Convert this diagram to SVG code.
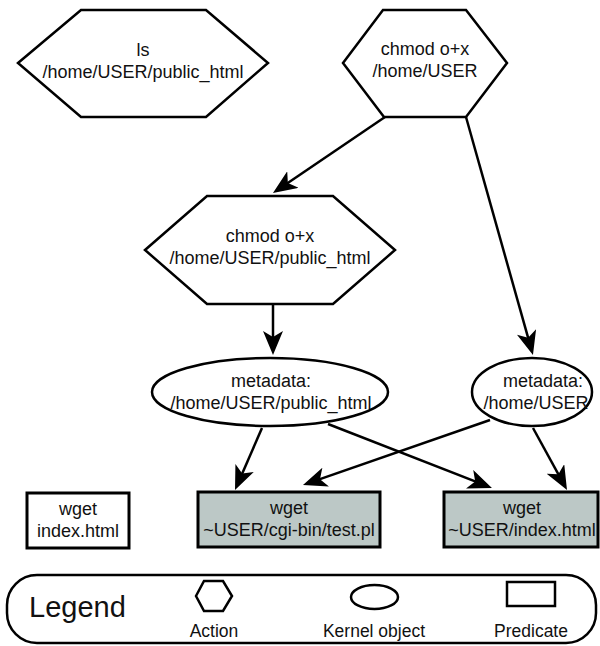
<svg xmlns="http://www.w3.org/2000/svg" width="600" height="646" viewBox="0 0 600 646">
<style>
.s{fill:#fff;stroke:#000;stroke-width:2.5;stroke-linejoin:miter}
.p{fill:#bcc8c6;stroke:#000;stroke-width:3}
.w{fill:#fff;stroke:#000;stroke-width:3}
.t{font-family:"Liberation Sans",Arial,sans-serif;font-size:18px;fill:#111;text-anchor:middle}
.l{font-size:17.5px}
.e{fill:none;stroke:#000;stroke-width:2.5}
</style>
<defs>
<marker id="ah" markerUnits="userSpaceOnUse" markerWidth="24" markerHeight="20" viewBox="0 0 24 20" refX="19" refY="10" orient="auto">
<path d="M0,0 L24,10 L0,20 L6,10 Z" fill="#000"/>
</marker>
</defs>
<rect width="600" height="646" fill="#fff"/>
<g id="connectors">
<line class="e" x1="385" y1="117" x2="277.1" y2="190.2" marker-end="url(#ah)"/>
<line class="e" x1="466" y1="117" x2="531.6" y2="350.2" marker-end="url(#ah)"/>
<line class="e" x1="273" y1="304" x2="273" y2="350" marker-end="url(#ah)"/>
<line class="e" x1="262" y1="428" x2="237" y2="485.4" marker-end="url(#ah)"/>
<line class="e" x1="328" y1="424" x2="487.3" y2="486.2" marker-end="url(#ah)"/>
<line class="e" x1="490" y1="420" x2="307.7" y2="483.4" marker-end="url(#ah)"/>
<line class="e" x1="533" y1="428" x2="564.6" y2="485.6" marker-end="url(#ah)"/>
</g>
<g id="ls_public_html">
<polygon class="s" points="18,63 81,10 206,10 268,63 206,117 81,117"/>
<text class="t" x="143" y="56">ls</text>
<text class="t" x="143" y="78">/home/USER/public_html</text>
</g>
<g id="chmod_home">
<polygon class="s" points="343,63 383,10 466,10 507,63 466,117 384,117"/>
<text class="t" x="425" y="55">chmod o+x</text>
<text class="t" x="425" y="77">/home/USER</text>
</g>
<g id="chmod_public_html">
<polygon class="s" points="145,250 207,196 333,196 395,250 333,304 207,304"/>
<text class="t" x="270" y="242">chmod o+x</text>
<text class="t" x="270" y="264">/home/USER/public_html</text>
</g>
<g id="meta_public_html">
<ellipse class="s" cx="270" cy="392" rx="118" ry="34"/>
<text class="t" x="271" y="387">metadata:</text>
<text class="t" x="271" y="409">/home/USER/public_html</text>
</g>
<g id="meta_home">
<ellipse class="s" cx="532" cy="392" rx="60" ry="34"/>
<text class="t" x="543" y="387">metadata:</text>
<text class="t" x="536" y="409">/home/USER</text>
</g>
<g id="wget_index">
<rect class="w" x="27" y="493" width="102" height="55"/>
<text class="t" x="78" y="515">wget</text>
<text class="t" x="78" y="537">index.html</text>
</g>
<g id="wget_test">
<rect class="p" x="198" y="492" width="182" height="55"/>
<text class="t" x="289" y="514">wget</text>
<text class="t" x="289" y="536">~USER/cgi-bin/test.pl</text>
</g>
<g id="wget_user_index">
<rect class="p" x="444" y="492" width="154" height="55"/>
<text class="t" x="522" y="514">wget</text>
<text class="t" x="522" y="536">~USER/index.html</text>
</g>
<g id="legend">
<rect x="7" y="575" width="589" height="68" rx="30" ry="30" fill="#fff" stroke="#000" stroke-width="2.5"/>
<text x="29" y="617" font-family="Liberation Sans,Arial,sans-serif" font-size="29" fill="#111">Legend</text>
<polygon class="s" points="196,596 204,581 223,581 232,596 223,611 204,611"/>
<text class="t l" x="214" y="637">Action</text>
<ellipse class="s" cx="374.5" cy="597" rx="23.5" ry="12"/>
<text class="t l" x="374" y="637">Kernel object</text>
<rect class="s" x="507" y="582" width="48" height="24"/>
<text class="t l" x="531" y="637">Predicate</text>
</g>
</svg>
